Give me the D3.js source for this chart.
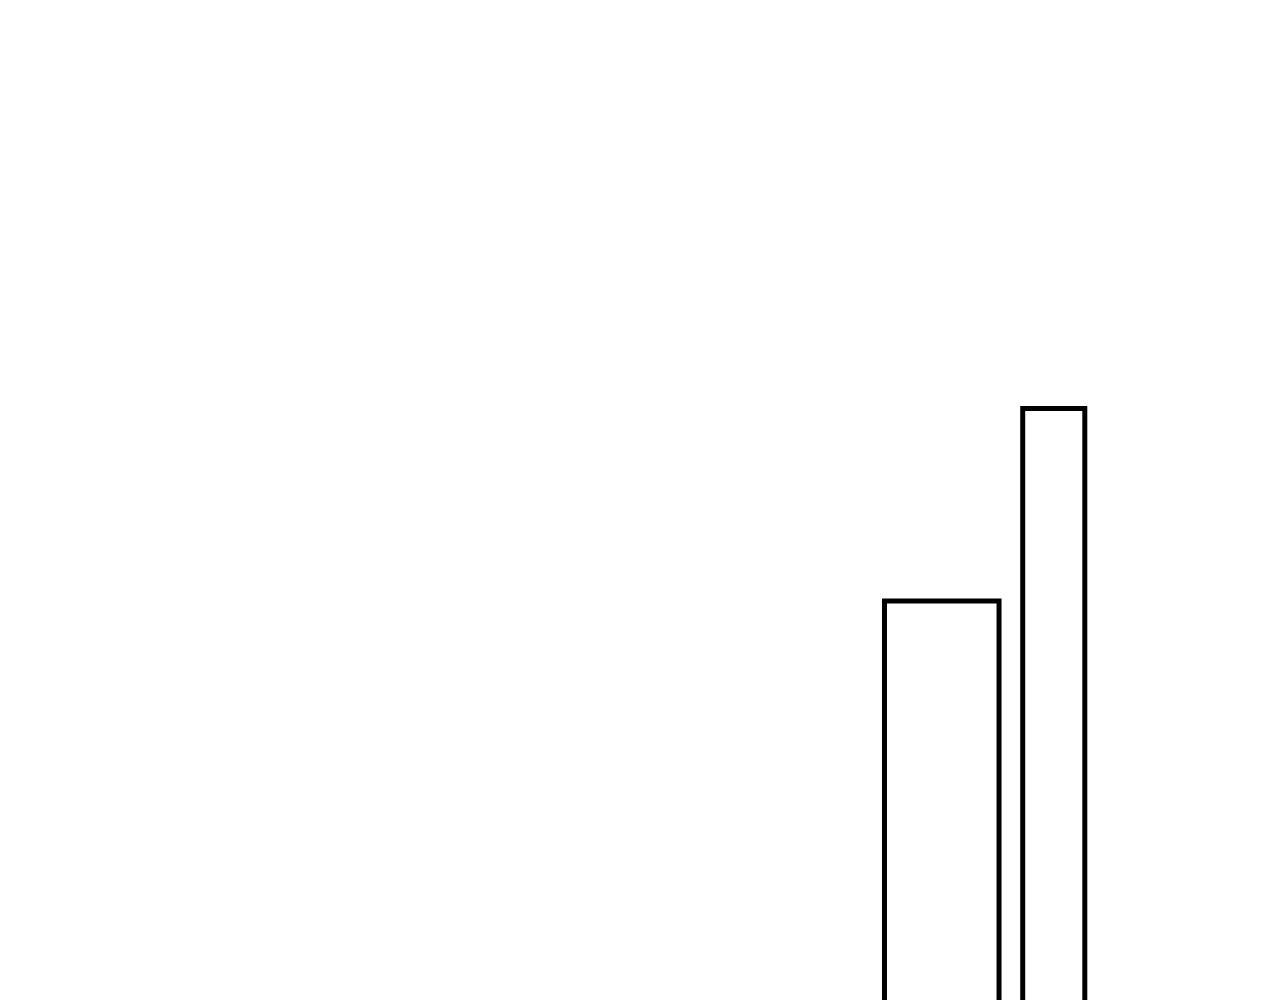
<!DOCTYPE html>
<html>
<head>
<meta charset="utf-8">
<script src="https://cdn.jsdelivr.net/npm/d3@7"></script>
<style>
  html, body { margin: 0; padding: 0; background: #fff; overflow: hidden; }
</style>
</head>
<body>
<div id="chart"></div>
<script>
// bin edges (start / end) and heights
const binStart = [69.1, 79.9];
const binEnd = [78.05, 84.75];
const binValue = [44.9, 64.15];

const drawBars = (containerId) => {
    const WIDTH = 1280;
    const HEIGHT = 1000;

    const svg = d3.select("#" + containerId)
        .html("")
        .append("svg")
        .attr("width", WIDTH)
        .attr("height", HEIGHT)
        .style("display", "block");

    const x = d3.scaleLinear()
        .domain([0, 100])
        .range([0, WIDTH]);

    // baseline sits below the visible area
    const y = d3.scaleLinear()
        .domain([0, 100])
        .range([1050, 50]);

    const bins = binValue.map((v, i) => ({ x0: binStart[i], x1: binEnd[i], value: v }));

    svg.selectAll("rect")
        .data(bins)
        .join("rect")
        .attr("x", d => x(d.x0))
        .attr("y", d => y(d.value))
        .attr("width", d => x(d.x1) - x(d.x0))
        .attr("height", d => y(0) - y(d.value))
        .attr("fill", "none")
        .attr("stroke", "#000")
        .attr("stroke-width", 5);
};

drawBars("chart");
</script>
</body>
</html>
